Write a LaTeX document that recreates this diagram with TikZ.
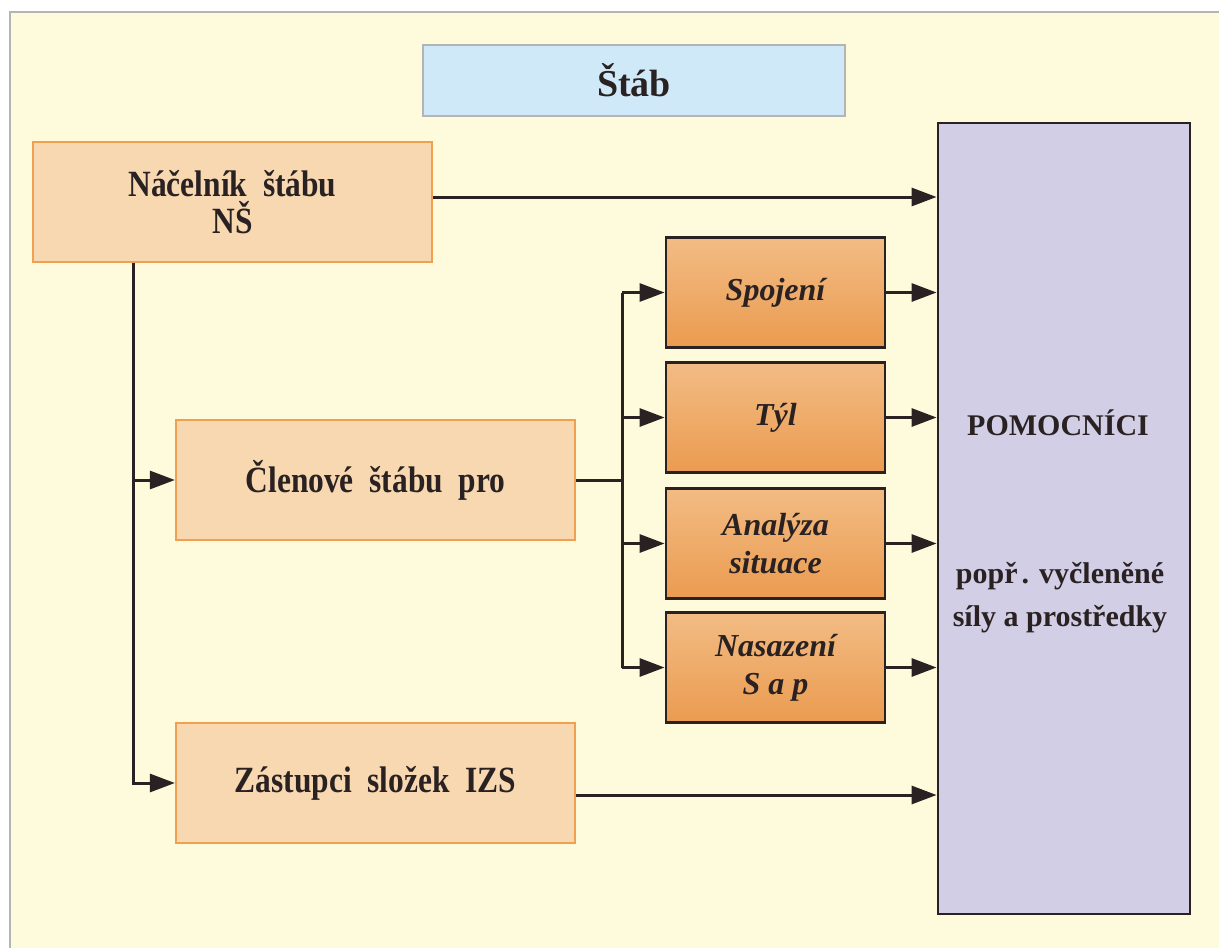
\documentclass[tikz,border=0pt]{standalone}
\usepackage{fontspec}
\setmainfont{Liberation Serif}
\newfontfamily\condfont[FakeStretch=0.85]{Liberation Serif}
\usetikzlibrary{arrows.meta}
\definecolor{bgyellow}{HTML}{FEFBDD}
\definecolor{framegray}{HTML}{B4B4B4}
\definecolor{stabblue}{HTML}{CFE9F8}
\definecolor{lightor}{HTML}{F8D8B0}
\definecolor{orborder}{HTML}{F0A050}
\definecolor{ortop}{HTML}{F2BC84}
\definecolor{orbot}{HTML}{EB9B50}
\definecolor{pomfill}{HTML}{D2CEE6}
\definecolor{darkline}{HTML}{2A2222}
\tikzset{
  lightbox/.style={draw=orborder, line width=2.2pt, fill=lightor, minimum width=399pt, minimum height=120pt, inner sep=0pt, align=center, font=\condfont\fontsize{37}{37}\selectfont\bfseries, text=darkline},
  orbox/.style={draw=darkline, line width=2.8pt, top color=ortop, bottom color=orbot, minimum width=219pt, minimum height=110pt, inner sep=0pt, align=center, font=\fontsize{32}{38}\selectfont\bfseries\itshape, text=darkline},
  conn/.style={line width=3pt, draw=darkline},
  arr/.style={conn, -{Triangle[length=25pt,width=18pt]}},
  pomtext/.style={align=center, font=\fontsize{30}{43}\selectfont\bfseries, text=darkline, inner sep=0pt}
}
\begin{document}
\begin{tikzpicture}[x=1pt,y=-1pt]
\useasboundingbox (0,0) rectangle (1219,948);
\fill[white] (0,0) rectangle (1219,948);
\fill[bgyellow] (10,12) rectangle (1219,948);
\draw[framegray, line width=2.5pt] (10,948) -- (10,12) -- (1219,12);

\node[draw=framegray, line width=2.2pt, fill=stabblue, minimum width=422pt, minimum height=71pt, inner sep=0pt, font=\fontsize{38}{40}\selectfont\bfseries, text=darkline] (stab) at (634,80.5) {Štáb};

\node[lightbox] (nac) at (232.5,202) {Náčelník\ \ štábu\\NŠ};
\node[lightbox] (clen) at (375.5,480) {Členové\ \ štábu\ \ pro};
\node[lightbox] (zas) at (375.5,783) {Zástupci\ \ složek\ \ IZS};

\node[orbox] (spo) at (775.5,292.5) {Spojení};
\node[orbox] (tyl) at (775.5,417.5) {Týl};
\node[orbox] (ana) at (775.5,543.5) {Analýza\\situace};
\node[orbox] (nas) at (775.5,667.5) {Nasazení\\S a p};

\node[draw=darkline, line width=2.8pt, fill=pomfill, minimum width=252pt, minimum height=791pt, inner sep=0pt] (pom) at (1064,518.5) {};
\node[pomtext] (pomt1) at (1058,423) {POMOCNÍCI};
\node[pomtext] (pomt2) at (1060,598) {popř\kern4pt. vyčleněné\\síly a prostředky};

\coordinate (trunk) at (133,0);
\coordinate (branch) at (622,0);

% Náčelník -> Pomocníci
\draw[arr] ([yshift=5pt]nac.east) -- ([yshift=5pt]nac.east -| pom.west);
% trunk
\draw[arr] (nac.south -| trunk) |- (zas.west);
\draw[arr] (clen.west -| trunk) -- (clen.west);
% branch
\draw[conn] (clen.east) -- (clen.east -| branch);
\draw[conn] (spo.west -| branch) -- (nas.west -| branch);
\draw[arr] (spo.west -| branch) -- (spo.west);
\draw[arr] (tyl.west -| branch) -- (tyl.west);
\draw[arr] (ana.west -| branch) -- (ana.west);
\draw[arr] (nas.west -| branch) -- (nas.west);
% outputs
\draw[arr] (spo.east) -- (spo.east -| pom.west);
\draw[arr] (tyl.east) -- (tyl.east -| pom.west);
\draw[arr] (ana.east) -- (ana.east -| pom.west);
\draw[arr] (nas.east) -- (nas.east -| pom.west);
\draw[arr] ([yshift=-12pt]zas.east) -- ([yshift=-12pt]zas.east -| pom.west);
\end{tikzpicture}
\end{document}
